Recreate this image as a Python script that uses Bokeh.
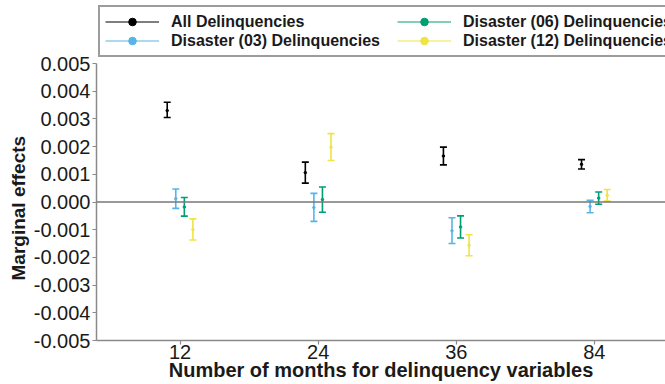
from bokeh.plotting import figure
from bokeh.models import (ColumnDataSource, Range1d, FixedTicker, Whisker, TeeHead,
                          Span, Legend, LegendItem, NumeralTickFormatter, Title)
from bokeh.embed import file_html
from bokeh.resources import INLINE

# Marginal effects with confidence intervals, by delinquency window
months = ["12", "24", "36", "84"]
series = ["All Delinquencies", "Disaster (03) Delinquencies",
          "Disaster (06) Delinquencies", "Disaster (12) Delinquencies"]
colors = ["#000000", "#56B4E9", "#009E73", "#F0E442"]

all_mean = [0.00330, 0.00106, 0.00166, 0.00136]
all_lower = [0.00305, 0.00068, 0.00134, 0.00119]
all_upper = [0.00360, 0.00144, 0.00198, 0.00153]

d03_mean = [0.00012, -0.00020, -0.00104, -0.00016]
d03_lower = [-0.00023, -0.00070, -0.00150, -0.00039]
d03_upper = [0.00047, 0.00031, -0.00057, 0.00006]

d06_mean = [-0.00018, 0.00009, -0.00090, 0.00014]
d06_lower = [-0.00051, -0.00037, -0.00130, -0.00008]
d06_upper = [0.00016, 0.00054, -0.00050, 0.00036]

d12_mean = [-0.00099, 0.00198, -0.00156, 0.00024]
d12_lower = [-0.00137, 0.00150, -0.00194, 0.00003]
d12_upper = [-0.00061, 0.00247, -0.00118, 0.00045]

y_ticks = [-0.005, -0.004, -0.003, -0.002, -0.001, 0.0,
           0.001, 0.002, 0.003, 0.004, 0.005]

means = [all_mean, d03_mean, d06_mean, d12_mean]
lowers = [all_lower, d03_lower, d06_lower, d12_lower]
uppers = [all_upper, d03_upper, d06_upper, d12_upper]

FONT = "Liberation Sans"
AXIS_GREY = "#8a8a8a"
TEXT = "#1a1a1a"

# the data area spans AXIS_H pixels; the frame extends above it to hold the legend
AXIS_H = 277
FRAME_H = 335
y_lo, y_hi = min(y_ticks), max(y_ticks)
y_top = y_lo + (y_hi - y_lo) * FRAME_H / AXIS_H

p = figure(frame_width=569, frame_height=FRAME_H, output_backend="svg",
           toolbar_location=None,
           x_range=Range1d(0.395, 4.515), y_range=Range1d(y_lo, y_top),
           min_border_left=96, min_border_right=0, min_border_top=5,
           min_border_bottom=40)
p.outline_line_color = None
p.grid.visible = False

# zero reference line
p.add_layout(Span(location=0, dimension="width", line_color="#777777",
                  line_width=1.5))

dodge = [-0.093, -0.031, 0.031, 0.093]
legend_items = []
for k in range(4):
    xs = [i + 1 + dodge[k] for i in range(len(months))]
    src = ColumnDataSource(dict(x=xs, mean=means[k], lower=lowers[k],
                                upper=uppers[k]))
    w = Whisker(base="x", lower="lower", upper="upper", source=src,
                line_color=colors[k], line_width=1.6,
                upper_head=TeeHead(size=7, line_color=colors[k], line_width=1.6),
                lower_head=TeeHead(size=7, line_color=colors[k], line_width=1.6))
    p.add_layout(w)
    p.scatter("x", "mean", source=src, size=2.5, color=colors[k])
    # swatch-only renderers for the legend, kept left of the visible range
    ln = p.line(x=[-5, -4], y=[0, 0], line_color=colors[k], line_width=1.2)
    dot = p.scatter(x=[-5], y=[0], size=12, color=colors[k])
    legend_items.append(LegendItem(label=series[k], renderers=[ln, dot]))

# legend box sits just above the top of the data area
legend = Legend(items=legend_items, ncols=2, location=(2, AXIS_H + 6),
                label_text_font=FONT, label_text_font_style="bold",
                label_text_font_size="16px", label_text_color=TEXT,
                glyph_width=54, glyph_height=19, label_height=19,
                label_width=226, label_standoff=12, spacing=0, padding=5,
                margin=0, border_line_color="#3a3a3a", border_line_width=2)
p.add_layout(legend, "center")

# axes
p.xaxis.ticker = FixedTicker(ticks=[1, 2, 3, 4])
p.xaxis.major_label_overrides = {i + 1: m for i, m in enumerate(months)}
p.yaxis.ticker = FixedTicker(ticks=y_ticks)
p.yaxis.bounds = (y_lo, y_hi)
p.yaxis.formatter = NumeralTickFormatter(format="0.000")
p.xaxis.axis_label = "Number of months for delinquency variables"

for ax in (p.xaxis[0], p.yaxis[0]):
    ax.axis_line_color = AXIS_GREY
    ax.axis_line_width = 1.5
    ax.major_tick_line_color = AXIS_GREY
    ax.major_tick_line_width = 1.2
    ax.major_tick_out = 4
    ax.major_tick_in = 0
    ax.minor_tick_line_color = None
    ax.major_label_text_font = FONT
    ax.major_label_text_font_size = "20px"
    ax.major_label_text_color = TEXT
p.xaxis.axis_label_text_font = FONT
p.xaxis.axis_label_text_font_style = "bold"
p.xaxis.axis_label_text_color = TEXT
p.xaxis.axis_label_text_font_size = "20px"
p.yaxis.major_label_standoff = 2
p.xaxis.major_label_standoff = 0
p.xaxis.axis_label_standoff = -3

# y title, centred on the data area rather than the taller frame
y_title = Title(text="Marginal effects", align="left", offset=60,
                text_font=FONT, text_font_style="bold", text_font_size="19px",
                text_color=TEXT, standoff=4)
p.add_layout(y_title, "left")

open("out.html", "w").write(file_html(p, INLINE))
